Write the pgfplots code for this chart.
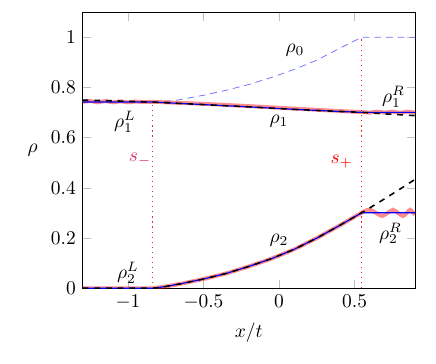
\documentclass[border=0pt]{standalone}
\usepackage{pgfplots}
\pgfplotsset{compat=1.18}
\definecolor{sminus}{rgb}{0.86,0.16,0.42}
\begin{document}
\begin{tikzpicture}
\begin{axis}[scale only axis,
width=171pt, height=142pt,
xmin=-1.3, xmax=0.9, ymin=0, ymax=1.1,
xtick={-1,-0.5,0,0.5},
ytick={0,0.2,0.4,0.6,0.8,1},
tick style={gray!50, thin},
xlabel={$x/t$},
ylabel={$\rho$},
ylabel style={rotate=-90},
clip=true
]
% rho0 = rho1 + rho2
\addplot[blue!55, dash pattern=on 3.5pt off 2.5pt] coordinates {
(-1.3,0.742) (-0.836,0.742) (-0.7,0.747) (-0.5,0.769) (-0.35,0.789) (-0.2,0.812)
(-0.05,0.840) (0.1,0.872) (0.25,0.909) (0.4,0.956) (0.547,1.0) (0.9,1.0)
};
% numerical (red, thick, translucent)
\addplot[red, opacity=0.45, line width=2pt] coordinates {
(-1.3,0.743) (-1.25,0.746) (-1.2,0.741) (-1.15,0.746) (-1.1,0.741) (-1.05,0.745)
(-1.0,0.741) (-0.95,0.744) (-0.9,0.742) (-0.836,0.743) (-0.5,0.735) (-0.2,0.726)
(0.1,0.716) (0.35,0.708) (0.547,0.702) (0.6,0.700) (0.65,0.704) (0.7,0.700)
(0.75,0.704) (0.8,0.699) (0.85,0.704) (0.9,0.700)
};
\addplot[red, opacity=0.45, line width=2pt] coordinates {
(-1.3,0) (-0.836,0) (-0.75,0.007) (-0.65,0.018) (-0.5,0.037) (-0.35,0.059)
(-0.2,0.087) (-0.05,0.118) (0.1,0.155) (0.25,0.200) (0.4,0.250) (0.547,0.301)
};
\addplot[red, opacity=0.45, line width=2pt, smooth] coordinates {
(0.547,0.301) (0.575,0.310) (0.603,0.313) (0.643,0.300) (0.682,0.288)
(0.718,0.300) (0.755,0.313) (0.788,0.300) (0.821,0.288) (0.845,0.300)
(0.868,0.313) (0.885,0.303) (0.9,0.293)
};
% exact (blue)
\addplot[blue, semithick] coordinates {
(-1.3,0.742) (-0.836,0.742) (-0.5,0.732) (-0.2,0.723) (0.1,0.713) (0.35,0.706)
(0.547,0.701) (0.9,0.701)
};
\addplot[blue, semithick] coordinates {
(-1.3,0) (-0.836,0) (-0.75,0.007) (-0.65,0.018) (-0.5,0.037) (-0.35,0.059)
(-0.2,0.087) (-0.05,0.118) (0.1,0.155) (0.25,0.200) (0.4,0.250) (0.547,0.301)
(0.9,0.301)
};
% reference (black dashed)
\addplot[black, thick, dashed] coordinates {
(-1.3,0.750) (-1.1,0.747) (-0.836,0.742) (-0.5,0.732) (-0.2,0.723) (0.1,0.713)
(0.35,0.706) (0.547,0.701) (0.7,0.695) (0.9,0.688)
};
\addplot[black, thick, dashed] coordinates {
(-1.3,0) (-0.836,0) (-0.75,0.007) (-0.65,0.018) (-0.5,0.037) (-0.35,0.059)
(-0.2,0.087) (-0.05,0.118) (0.1,0.155) (0.25,0.200) (0.4,0.250) (0.547,0.301)
(0.6,0.320) (0.7,0.357) (0.8,0.395) (0.9,0.434)
};
% wave speeds
\addplot[sminus, dotted, semithick] coordinates {(-0.836,0) (-0.836,0.742)};
\addplot[red!90, dotted, semithick] coordinates {(0.547,0) (0.547,1.0)};
% labels
\node at (axis cs:0.106,0.949) {$\rho_0$};
\node at (axis cs:-1.02,0.663) {$\rho_1^L$};
\node at (axis cs:0,0.664) {$\rho_1$};
\node at (axis cs:0.757,0.763) {$\rho_1^R$};
\node[sminus] at (axis cs:-0.92,0.511) {$s_-$};
\node[red] at (axis cs:0.415,0.504) {$s_+$};
\node at (axis cs:0,0.192) {$\rho_2$};
\node at (axis cs:0.738,0.219) {$\rho_2^R$};
\node at (axis cs:-1.0,0.06) {$\rho_2^L$};
\end{axis}
\path ([shift={(-42.5pt,-38.9pt)}]current axis.south west) rectangle ([shift={(10.8pt,6.3pt)}]current axis.north east);
\end{tikzpicture}
\end{document}
